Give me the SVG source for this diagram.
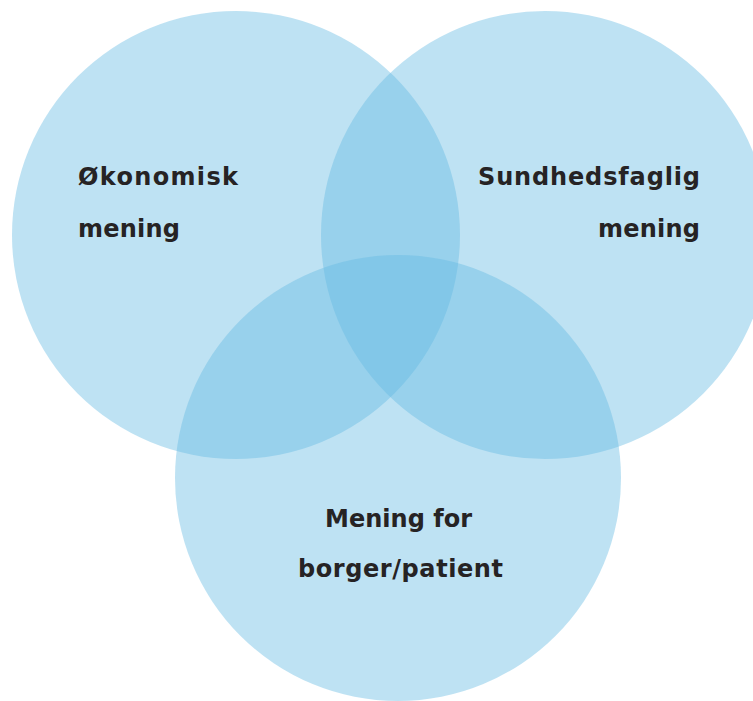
<svg xmlns="http://www.w3.org/2000/svg" width="753" height="701" viewBox="0 0 753 701">
<style>
.c{fill:#64bbe3;fill-opacity:0.42}
.t{font-family:"DejaVu Sans","Liberation Sans",Arial,sans-serif;font-weight:bold;font-size:24px;fill:#262324}
</style>
<rect width="753" height="701" fill="#ffffff"/>
<g id="connectors"></g>
<g id="okonomisk">
<circle class="c" cx="236" cy="235" r="224"/>
<text class="t" x="78" y="185" textLength="160" lengthAdjust="spacing">Økonomisk</text>
<text class="t" x="78" y="237" textLength="102" lengthAdjust="spacing">mening</text>
</g>
<g id="sundhedsfaglig">
<circle class="c" cx="545" cy="235" r="224"/>
<text class="t" x="478" y="185" textLength="222" lengthAdjust="spacing">Sundhedsfaglig</text>
<text class="t" x="598" y="237" textLength="102" lengthAdjust="spacing">mening</text>
</g>
<g id="borger">
<circle class="c" cx="398" cy="478" r="223"/>
<text class="t" x="325" y="527" textLength="147" lengthAdjust="spacing">Mening for</text>
<text class="t" x="298" y="577" textLength="205" lengthAdjust="spacing">borger/patient</text>
</g>
</svg>
